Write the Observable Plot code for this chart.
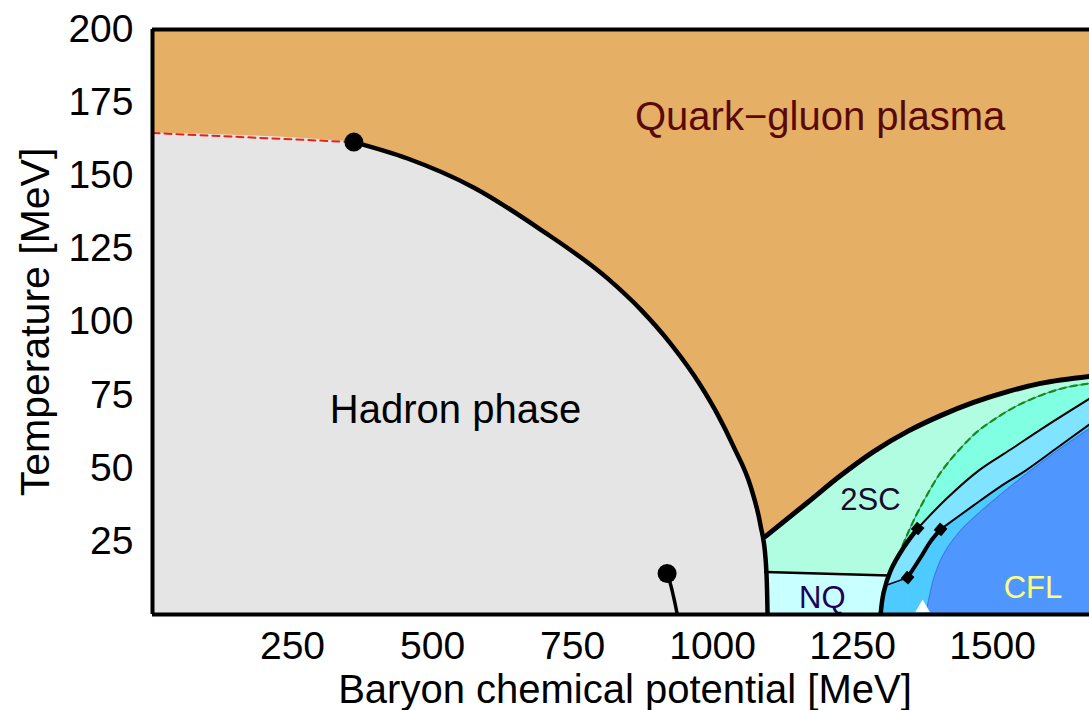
<!DOCTYPE html>
<html><head><meta charset="utf-8">
<script src="https://cdn.jsdelivr.net/npm/d3@7"></script>
<script src="https://cdn.jsdelivr.net/npm/@observablehq/plot@0.6"></script>
<style>body{margin:0;background:#fff}</style>
</head><body><div id="chart"></div>
<script>
// Axis ticks
const muTicks = [250, 500, 750, 1000, 1250, 1500];
const tTicks = [25, 50, 75, 100, 125, 150, 175, 200];

// Boundaries: [mu (MeV), T (MeV)]
const crossover = [[0, 164.6], [359.5, 161.5]];
const hadronLine = [[359.5,161.5],[455.4,155.9],[573.2,146.0],[692.9,131.6],[812.5,114.9],[871.4,104.3],[925,92.6],[978.6,78.3],[1008.9,68.4],[1037.5,57.4],[1067.9,43.8],[1085.7,30.4],[1094.6,19.1],[1097.3,8.2],[1098.2,0]];
const hadronFill = crossover.concat(hadronLine.slice(1));
const cp2Line = [[918.8,14.0],[925,10.3],[931,5.5],[937,0]];
const scBoundary = [[1094.6,26.7],[1169.6,38.3],[1228.6,47.5],[1287.5,55.7],[1348.2,62.6],[1407.1,68.0],[1466.1,72.5],[1526.8,76.2],[1585.7,79.0],[1673.2,81.4]];
const scFill = [[1086,26.7]].concat(scBoundary);
const dashed2SC = [[1339.3,23.6],[1358.9,32.1],[1380.4,40.0],[1407.1,48.5],[1439.3,56.1],[1473.2,62.6],[1505.4,67.0],[1541.1,71.1],[1585.7,74.9],[1630.4,77.6],[1673.2,79.0]];
const firstThick = [[1300,0],[1305.4,7.5],[1317.9,15.0],[1341.1,22.9],[1366.1,29.4]];
const firstThin = [[1366.1,29.4],[1416.1,39.3],[1475,49.2],[1532.1,56.4],[1591.1,63.9],[1673.2,73.8]];
const firstLine = firstThick.concat(firstThin.slice(1));
const connector = [[1300,0],[1305.4,7.5],[1308.9,9.9],[1348.2,12.6]];
const secondThick = [[1348.2,12.6],[1371.4,19.5],[1389.3,25.0],[1407.1,29.1]];
const secondThin = [[1407.1,29.1],[1466.1,37.3],[1514.3,43.8],[1558.9,49.2],[1616,57.1],[1673.2,65.0]];
const secondLine = secondThick.concat(secondThin.slice(1));
const cflBoundary = [[1380.4,0],[1385.7,4.8],[1396.4,13.3],[1414.3,21.2],[1442.9,28.7],[1478.6,35.2],[1514.3,41.0],[1567.9,49.2],[1621.4,56.8],[1673.2,63.6]];
const nqTop = [[1094,14.5],[1315,13.3]];
const criticalPoints = [[359.5,161.5],[918.8,14.0]];
const diamonds = [[1366.1,29.4],[1407.1,29.1],[1348.2,12.6]];
const triangle = [[1375,2.2]];

// Region labels
const labelNames = ["Quark\u2212gluon plasma", "Hadron phase", "2SC", "NQ", "CFL"];
const labelMu = [1192, 541, 1282, 1196, 1572];
const labelT = [169.9, 70, 39, 5.5, 8.9];
const labelSize = [40, 40, 31, 31, 31];
const labelColor = ["#5a0808", "#000000", "#1a0a30", "#20005a", "#ffff80"];

const P = a => a.map(([mu, T]) => ({mu, T}));
const C = {qgp:"#e5b066", hadron:"#e5e5e5", mint:"#b0fde2", aqua:"#80ffe2", light:"#80e3ff", medium:"#4dcaff", cfl:"#4f96ff", nq:"#c8ffff"};

const area = (d, fill, curve="catmull-rom") => Plot.areaY(P(d), {x:"mu", y:"T", fill, curve, clip:true});
const line = (d, stroke, strokeWidth, extra={}) => Plot.line(P(d), {x:"mu", y:"T", stroke, strokeWidth, curve:"catmull-rom", clip:true, ...extra});

const labelMarks = labelNames.map((t, i) => Plot.text([{mu: labelMu[i], T: labelT[i], t}], {x:"mu", y:"T", text:"t", fontSize: labelSize[i], fill: labelColor[i]}));

const chart = Plot.plot({
  width: 1089, height: 710,
  marginLeft: 152, marginRight: 0, marginTop: 29, marginBottom: 96,
  x: {domain: [0, 1673]},
  y: {domain: [0, 200]},
  style: {fontFamily: "'Liberation Sans', Arial, sans-serif", fontSize: "39px", background: "#fff", color: "#000"},
  marks: [
    Plot.frame({fill: C.qgp, stroke: "none"}),
    area(scFill, C.mint),
    area(dashed2SC, C.aqua),
    area(nqTop, C.nq, "linear"),
    area(firstLine, C.light),
    area(connector, C.medium, "linear"),
    area(secondLine, C.medium),
    area(cflBoundary, C.cfl),
    area(hadronFill, C.hadron, "monotone-x"),
    line(cflBoundary, "#3b6fd6", 0.8),
    line(dashed2SC, "#2a4a3a", 0.7),
    line(dashed2SC, "#178a17", 2.2, {strokeDasharray: "6,5"}),
    line(crossover, "#e8201c", 2, {strokeDasharray: "7,5", curve: "linear"}),
    line(nqTop, "#000", 2.5, {curve: "linear"}),
    line(connector.slice(2), "#000", 1.5, {curve: "linear"}),
    line(firstThin, "#000", 2),
    line(firstThick, "#000", 4.5),
    line(secondThin, "#000", 2),
    line(secondThick, "#000", 4),
    line(scBoundary, "#000", 5, {curve: "monotone-x"}),
    line(hadronLine, "#000", 4.5, {curve: "monotone-x"}),
    line(cp2Line, "#000", 3.5),
    Plot.dot(P(criticalPoints), {x:"mu", y:"T", r: 9.5, fill: "#000"}),
    Plot.dot(P(diamonds), {x:"mu", y:"T", symbol: "square", r: 5.5, fill: "#000", rotate: 40}),
    Plot.dot(P(triangle), {x:"mu", y:"T", symbol: "triangle", r: 5.5, fill: "#fff"}),
    ...labelMarks,
    Plot.ruleX([0], {stroke: "#000", strokeWidth: 4}),
    Plot.ruleY([0, 200], {stroke: "#000", strokeWidth: 4}),
    Plot.axisX(muTicks, {tickSize: 0, tickPadding: 17, label: null, tickFormat: d => String(d)}),
    Plot.axisY(tTicks, {tickSize: 0, tickPadding: 19, label: null, tickFormat: d => String(d)}),
    Plot.text(["Baryon chemical potential [MeV]"], {frameAnchor: "bottom", text: d => d, dx: 4, dy: 76, fontSize: 40, lineAnchor: "middle", textAnchor: "middle"}),
    Plot.text(["Temperature [MeV]"], {frameAnchor: "left", text: d => d, dx: -117, rotate: -90, fontSize: 41, lineAnchor: "middle", textAnchor: "middle"})
  ]
});
document.getElementById("chart").appendChild(chart);
</script>
</body></html>
